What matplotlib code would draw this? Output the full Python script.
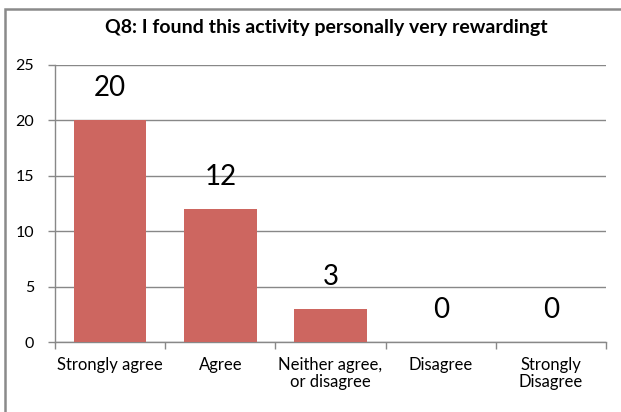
import matplotlib.pyplot as plt
import matplotlib.patches as patches
import numpy as np

# data
categories = ["Strongly agree", "Agree", "Neither agree,\nor disagree", "Disagree", "Strongly\nDisagree"]
counts = [20, 12, 3, 0, 0]
yticks = [0, 5, 10, 15, 20, 25]

plt.rcParams['font.family'] = ['Lato', 'DejaVu Sans']

fig = plt.figure(figsize=(6.21, 4.12), dpi=100)
ax = fig.add_axes([55/621, 70/412, 551/621, 277/412])

x = np.arange(len(categories))
ax.bar(x, counts, width=0.66, color='#cd6660', zorder=3)

for xi, v in zip(x, counts):
    ax.annotate(str(v), (xi, v), xytext=(0, 23), textcoords='offset points',
                ha='center', va='center', fontsize=20, color='black')

ax.set_xlim(-0.5, len(categories) - 0.5)
ax.set_ylim(0, 25)
ax.set_yticks(yticks)
ax.grid(axis='y', color='#888888', lw=1, zorder=0)

ax.set_xticks(x)
ax.set_xticklabels(categories, fontsize=12, linespacing=1.05)
ax.set_xticks(np.arange(len(categories) + 1) - 0.5, minor=True)
ax.tick_params(axis='x', which='major', length=0, pad=11)
ax.tick_params(axis='x', which='minor', length=5, color='#888888', width=1)
ax.tick_params(axis='y', length=5, color='#888888', width=1, labelsize=11.5, pad=10)

for s in ['top', 'right']:
    ax.spines[s].set_visible(False)
for s in ['left', 'bottom']:
    ax.spines[s].set_color('#888888')
    ax.spines[s].set_linewidth(1)

fig.text(326/621, 1 - 28/412, "Q8: I found this activity personally very rewardingt",
         ha='center', va='center', fontsize=14, fontweight='bold')

# outer chart border (runs off the right and bottom of the picture)
fig.patches.append(patches.Rectangle((5/621, -0.1), 1.1, 1 - 9/412 + 0.1,
                                     transform=fig.transFigure, fill=False,
                                     edgecolor='#8a8a8a', lw=1.8))

fig.savefig("out.png", dpi=100)
